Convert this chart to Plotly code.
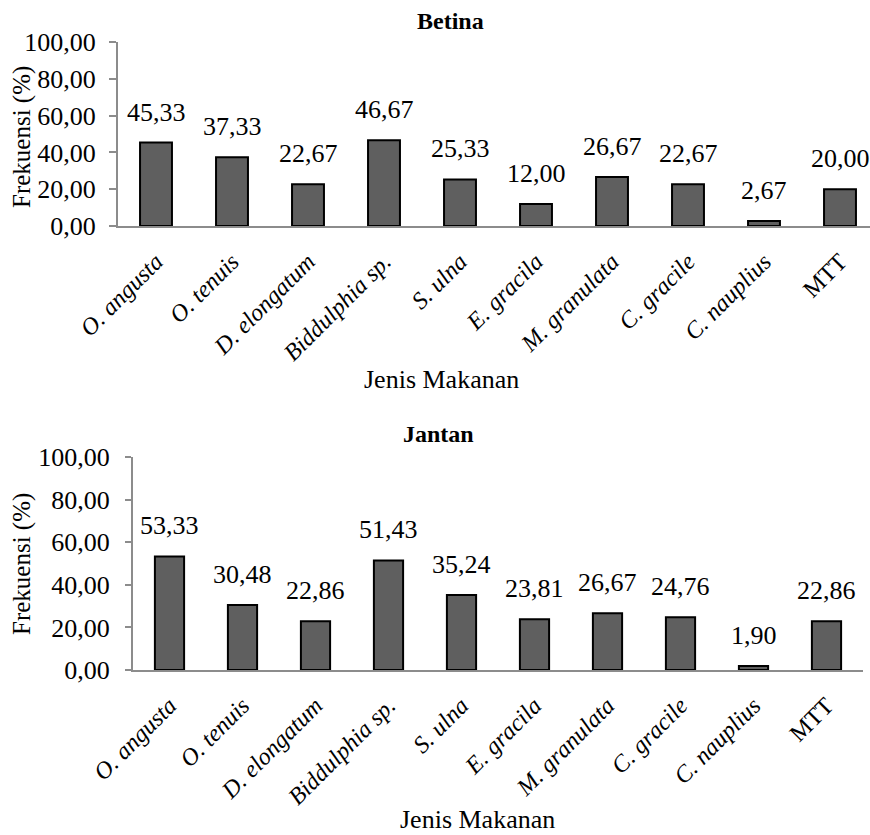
import plotly.graph_objects as go

# Food categories (italic species names, MTT upright)
categories = ["O. angusta", "O. tenuis", "D. elongatum", "Biddulphia sp.", "S. ulna",
              "E. gracila", "M. granulata", "C. gracile", "C. nauplius", "MTT"]
tick_labels = ["<i>O. angusta</i>", "<i>O. tenuis</i>", "<i>D. elongatum</i>",
               "<i>Biddulphia sp.</i>", "<i>S. ulna</i>", "<i>E. gracila</i>",
               "<i>M. granulata</i>", "<i>C. gracile</i>", "<i>C. nauplius</i>", "MTT"]

betina = [45.33, 37.33, 22.67, 46.67, 25.33, 12.00, 26.67, 22.67, 2.67, 20.00]
jantan = [53.33, 30.48, 22.86, 51.43, 35.24, 23.81, 26.67, 24.76, 1.90, 22.86]

y_ticks = [0, 20, 40, 60, 80, 100]

W, H = 870, 835
FONT = "Liberation Serif, Times New Roman, serif"
BAR_FILL = "#5f5f5f"
AXIS_GREY = "#8c8c8c"
LABEL_SIZE = 26


def px_x(p):
    return p / W


def px_y(q):
    return 1 - q / H


def fmt(v):
    return f"{v:.2f}".replace(".", ",")


fig = go.Figure()

panels = [
    # values, xaxis, yaxis, bar width (category units)
    (betina, "x", "y", 0.42),
    (jantan, "x2", "y2", 0.40),
]

for vals, xa, ya, bw in panels:
    fig.add_trace(go.Bar(
        x=categories, y=vals, xaxis=xa, yaxis=ya,
        width=bw, marker=dict(color=BAR_FILL, line=dict(color="#000000", width=2)),
        showlegend=False, hoverinfo="skip",
    ))
    for c, v in zip(categories, vals):
        fig.add_annotation(
            x=c, y=v, xref=xa, yref=ya, text=fmt(v), showarrow=False,
            yanchor="bottom", yshift=14,
            font=dict(family=FONT, size=LABEL_SIZE, color="#000000"),
        )

axis_common = dict(showgrid=False, zeroline=False, automargin=False)

top_right_cat = -0.5 + (870 - 118) / 76.0


def x_axis(domain, anchor, rng):
    return dict(domain=domain, anchor=anchor, range=rng,
                tickmode="array", tickvals=categories, ticktext=tick_labels,
                tickangle=-45, tickfont=dict(family=FONT, size=24),
                showline=True, linecolor=AXIS_GREY, linewidth=2,
                ticks="outside", ticklen=10, tickcolor="rgba(0,0,0,0)",
                **axis_common)


def y_axis(domain, anchor, ticklen, standoff):
    return dict(domain=domain, anchor=anchor, range=[0, 100],
                tickvals=y_ticks, tickformat=".2f",
                tickfont=dict(family=FONT, size=LABEL_SIZE),
                showline=True, linecolor=AXIS_GREY, linewidth=2,
                ticks="outside", ticklen=ticklen, tickcolor=AXIS_GREY, tickwidth=2,
                ticklabelstandoff=standoff,
                **axis_common)


fig.update_layout(
    width=W, height=H,
    margin=dict(l=0, r=0, t=0, b=0, autoexpand=False),
    paper_bgcolor="white", plot_bgcolor="white",
    font=dict(family=FONT, color="#000000"),
    xaxis=x_axis([px_x(118), px_x(870)], "y", [-0.5, top_right_cat]),
    yaxis=y_axis([px_y(226), px_y(42)], "x", 7, 8),
    xaxis2=x_axis([px_x(133), px_x(863)], "y2", [-0.5, 9.5]),
    yaxis2=y_axis([px_y(670), px_y(457)], "x2", 6, 10),
    separators=", ",
)

# Chart titles and axis titles: (text, x px, y px, angle, size, yanchor)
texts = [
    ("<b>Betina</b>", 450, 21, 0, 24, "middle"),
    ("<b>Jantan</b>", 438, 434, 0, 24, "middle"),
    ("Jenis Makanan", 441, 379, 0, 26, "middle"),
    ("Jenis Makanan", 478, 835, 0, 26, "bottom"),
    ("Frekuensi (%)", 22, 137, -90, 25, "middle"),
    ("Frekuensi (%)", 22, 564, -90, 25, "middle"),
]
for t, x, y, ang, size, ya in texts:
    fig.add_annotation(
        x=px_x(x), y=px_y(y), xref="paper", yref="paper", text=t,
        showarrow=False, textangle=ang, xanchor="center", yanchor=ya,
        borderpad=0,
        font=dict(family=FONT, size=size, color="#000000"),
    )

fig.write_html("out.html")
